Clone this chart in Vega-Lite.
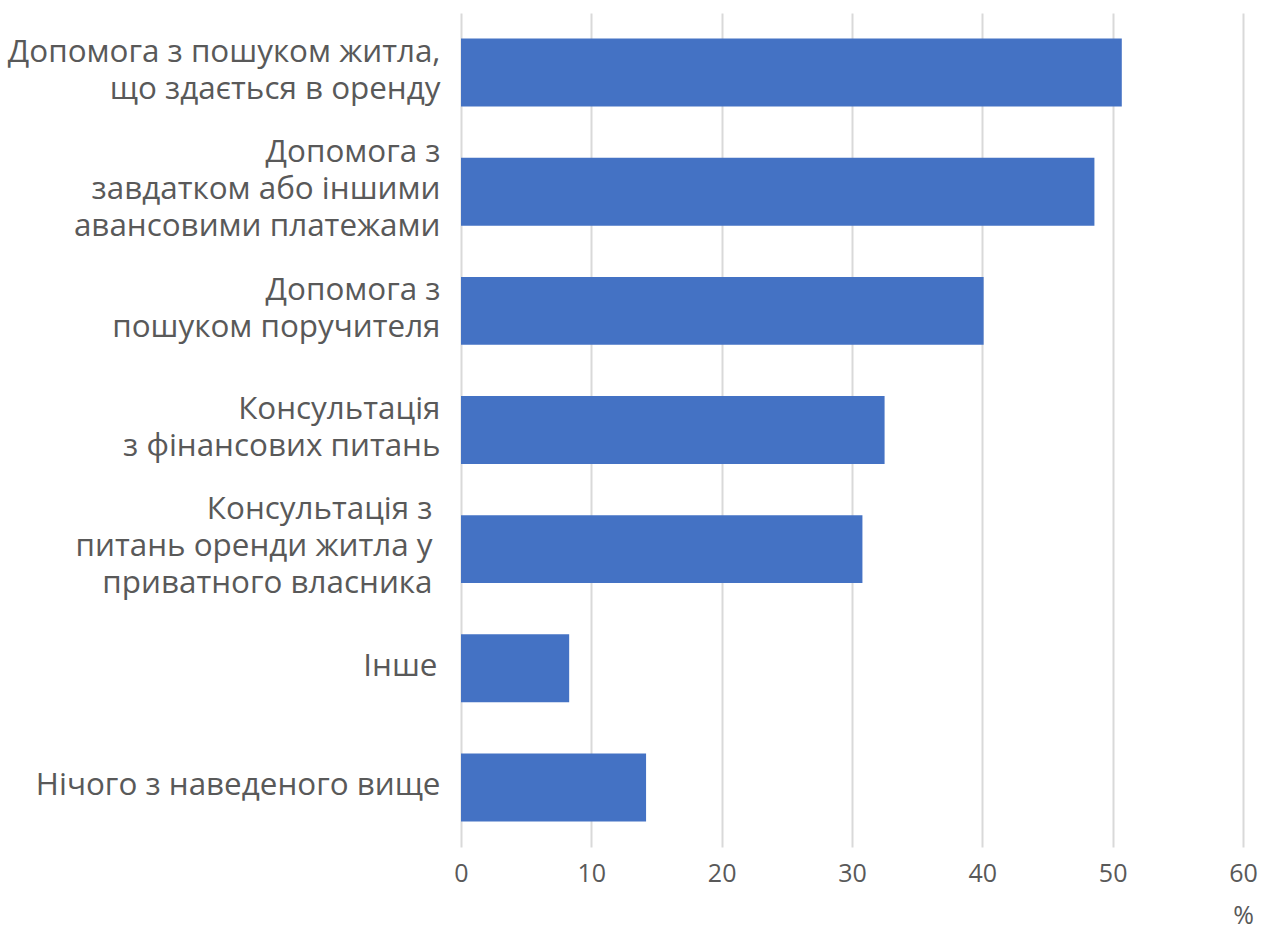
{
  "$schema": "https://vega.github.io/schema/vega-lite/v6.json",
  "autosize": {"type": "none"},
  "width": 782,
  "height": 834,
  "padding": {"left": 461, "top": 13, "right": 24, "bottom": 78},
  "background": "white",
  "data": {
    "values": [
      {"label": "Допомога з пошуком житла,|що здається в оренду", "value": 50.7},
      {"label": "Допомога з|завдатком або іншими|авансовими платежами", "value": 48.6},
      {"label": "Допомога з|пошуком поручителя", "value": 40.1},
      {"label": "Консультація|з фінансових питань", "value": 32.5},
      {"label": "Консультація з|питань оренди житла у|приватного власника", "value": 30.8},
      {"label": "Інше", "value": 8.3},
      {"label": "Нічого з наведеного вище", "value": 14.2}
    ]
  },
  "mark": {"type": "bar", "color": "#4472C4"},
  "encoding": {
    "y": {
      "field": "label",
      "type": "nominal",
      "sort": null,
      "scale": {"paddingInner": 0.43, "paddingOuter": 0.215},
      "axis": {
        "title": null,
        "labelExpr": "split(datum.label, '|')",
        "labelFont": "Open Sans",
        "labelFontSize": 31.4,
        "labelLineHeight": 37,
        "labelColor": "#595959",
        "labelOffset": {
          "condition": [
            {"test": "length(split(datum.value, '|')) == 3", "value": -39},
            {"test": "length(split(datum.value, '|')) == 2", "value": -20}
          ],
          "value": -1
        },
        "labelPadding": {
          "condition": [
            {"test": "indexof(datum.value, 'приватного') >= 0", "value": 29},
            {"test": "datum.value == 'Інше'", "value": 24}
          ],
          "value": 21
        },
        "labelLimit": 460,
        "ticks": false,
        "domain": false
      }
    },
    "x": {
      "field": "value",
      "type": "quantitative",
      "scale": {"domain": [0, 60], "nice": false},
      "axis": {
        "values": [0, 10, 20, 30, 40, 50, 60],
        "title": "%",
        "titleAnchor": "end",
        "titleAlign": "center",
        "titleFont": "Open Sans",
        "titleFontSize": 25,
        "titleFontWeight": "normal",
        "titleColor": "#595959",
        "titlePadding": 17,
        "labelFont": "Liberation Sans Narrow, Open Sans",
        "labelFontSize": 25,
        "labelColor": "#595959",
        "labelPadding": 14,
        "labelFlush": false,
        "grid": true,
        "gridColor": "#d9d9d9",
        "gridWidth": 2,
        "ticks": false,
        "domain": false
      }
    }
  },
  "config": {"view": {"stroke": null}}
}
